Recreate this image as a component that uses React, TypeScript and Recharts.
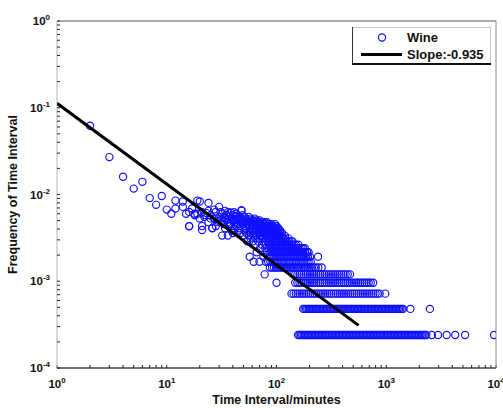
import React from 'react';
import { ScatterChart, Scatter, XAxis, YAxis, Legend, Label } from 'recharts';

const xMajorTicks = [1, 10, 100, 1000, 10000];
const yMajorTicks = [0.0001, 0.001, 0.01, 0.1, 1];
const minorSteps = [2, 3, 4, 5, 6, 7, 8, 9];

// loose points at short intervals (x = minutes, y = frequency)
const freeX = [2, 3, 4, 5, 6, 7, 8, 9, 10, 11, 12, 12, 14, 14, 16, 16, 17, 18, 19, 20, 21, 22, 23, 24, 25, 26, 27, 28, 29, 30, 33, 35, 37, 38, 40, 43, 44, 46, 48];
const freeY = [0.062, 0.027, 0.016, 0.0117, 0.014, 0.0091, 0.0076, 0.0096, 0.0067, 0.006, 0.0085, 0.0069, 0.0072, 0.0083, 0.0063, 0.0043, 0.0069, 0.006, 0.0085, 0.0083, 0.0039, 0.0058, 0.0061, 0.008, 0.0053, 0.0041, 0.0067, 0.0063, 0.005, 0.0072, 0.0055, 0.0058, 0.0046, 0.0062, 0.005, 0.0051, 0.0057, 0.0053, 0.0066];

// frequency levels of 1..27 occurrences
const bandLevels = [0.00024, 0.00048, 0.00072, 0.00096, 0.0012, 0.00144, 0.00168, 0.00192, 0.00216, 0.0024, 0.00264, 0.00288, 0.00312, 0.00336, 0.0036, 0.00384, 0.00408, 0.00432, 0.00456, 0.0048, 0.00504, 0.00528, 0.00552, 0.00576, 0.006, 0.00624, 0.00648];
const bandX = [
  [157, 162, 167, 172, 177, 182, 188, 193, 199, 205, 211, 218, 224, 231, 238, 245, 252, 260, 268, 276, 284, 292, 301, 310, 319, 329, 339, 349, 360, 370, 381, 393, 405, 417, 429, 442, 455, 469, 483, 498, 513, 528, 544, 560, 577, 594, 612, 631, 650, 669, 689, 710, 731, 753, 776, 799, 823, 848, 873, 899, 926, 954, 983, 1012, 1043, 1074, 1106, 1139, 1174, 1209, 1245, 1282, 1321, 1361, 1401, 1443, 1487, 1531, 1577, 1625, 1673, 1724, 1775, 1829, 1883, 1940, 1998, 2058, 2120, 2183, 2249, 2316, 2600, 2960, 3550, 4250, 5230, 9600],
  [175, 180, 186, 191, 197, 203, 209, 215, 222, 228, 235, 242, 250, 257, 265, 273, 281, 289, 298, 307, 316, 326, 335, 345, 356, 366, 377, 389, 400, 412, 425, 437, 451, 464, 478, 492, 507, 522, 538, 554, 571, 588, 606, 624, 643, 662, 682, 702, 723, 745, 767, 790, 814, 838, 863, 889, 916, 943, 972, 1001, 1031, 1062, 1093, 1126, 1160, 1195, 1231, 1268, 1306, 1345, 1385, 1427, 1660, 2500],
  [137, 143, 150, 156, 163, 171, 178, 186, 195, 204, 213, 222, 232, 243, 254, 265, 277, 290, 303, 316, 331, 346, 361, 377, 394, 412, 431, 450, 470, 492, 514, 537, 561, 586, 613, 640, 669, 699, 731, 763, 798, 834, 871, 980],
  [100, 148, 155, 162, 169, 177, 185, 193, 202, 211, 220, 230, 241, 251, 263, 275, 287, 300, 313, 327, 342, 358, 374, 390, 408, 426, 446, 466, 487, 509, 531, 555, 580, 606, 634, 662, 692, 723, 760],
  [78, 142, 148, 155, 162, 169, 177, 185, 193, 202, 211, 220, 230, 241, 251, 263, 275, 287, 300, 313, 327, 342, 358, 374, 390, 408, 426, 446, 468],
  [87, 91, 95, 99, 103, 108, 112, 117, 122, 127, 133, 138, 144, 150, 157, 163, 170, 178, 185, 193, 201, 210, 219, 228, 240, 258],
  [62, 70, 80, 84, 88, 92, 96, 100, 104, 109, 113, 118, 123, 129, 134, 140, 146, 152, 159, 166, 173, 180, 188, 196, 205],
  [57, 76, 86, 90, 94, 98, 102, 107, 111, 116, 121, 126, 132, 137, 143, 149, 156, 163, 170, 177, 185, 193, 202, 239],
  [66, 82, 88, 92, 96, 100, 105, 109, 114, 119, 124, 129, 135, 141, 147, 153, 160, 167, 174, 182, 190, 196],
  [71, 79, 85, 89, 93, 97, 101, 106, 110, 115, 120, 125, 131, 136, 142, 148, 155, 162, 169, 175, 181],
  [64, 74, 80, 86, 90, 94, 98, 102, 107, 112, 116, 121, 127, 132, 138, 144, 150, 158],
  [54, 61, 68, 76, 83, 88, 92, 96, 100, 105, 109, 114, 119, 124, 130, 136, 140],
  [58, 64, 70, 75, 80, 84, 89, 93, 97, 101, 105, 110, 115, 120, 128],
  [32, 36, 50, 56, 62, 66, 71, 75, 80, 85, 89, 93, 98, 102, 106, 112, 119],
  [40, 47, 53, 58, 63, 68, 72, 77, 82, 86, 90, 94, 99, 103, 108, 112],
  [39, 45, 51, 57, 61, 65, 70, 74, 78, 83, 87, 91, 95, 99, 104, 108],
  [26, 34, 41, 46, 52, 57, 62, 66, 70, 75, 80, 84, 88, 92, 96, 100, 104],
  [16, 21, 28, 37, 43, 47, 52, 56, 60, 65, 69, 74, 78, 83, 88, 92, 97, 100],
  [33, 38, 44, 50, 55, 60, 64, 68, 72, 76, 80, 85, 90, 97],
  [24, 29, 36, 42, 47, 52, 55, 59, 64, 69, 74, 78, 82],
  [31, 35, 40, 45, 49, 53, 57, 61, 66, 70],
  [20, 27, 34, 39, 44, 48, 52, 58, 63],
  [22, 30, 37, 42, 46, 51, 56],
  [18, 25, 35, 40, 49],
  [15, 19, 32, 43],
  [21, 31, 36, 41],
  [24, 34, 48],
];

// fitted power law, slope -0.935
const fitX = [1, 560];
const fitY = [0.1125, 0.00031];

const FONT = '"Liberation Sans", Arial, Helvetica, sans-serif';
const BLUE = '#1010ff';

const withMinor = (majors: number[]) => [
  ...majors,
  ...majors.slice(0, -1).flatMap((d) => minorSteps.map((m) => m * d)),
];
const xTicks = withMinor(xMajorTicks);
const yTicks = withMinor(yMajorTicks);

const isMajor = (v: number) => {
  const e = Math.log10(v);
  return Math.abs(e - Math.round(e)) < 1e-6;
};

const points = [
  ...freeX.map((x, i) => ({ x, y: freeY[i] })),
  ...bandX.flatMap((xs, i) => xs.map((x) => ({ x, y: bandLevels[i] }))),
];
const fitData = fitX.map((x, i) => ({ x, y: fitY[i] }));

const XTick = (props: any) => {
  const { x, y, payload } = props;
  if (!isMajor(payload.value)) return <g />;
  return (
    <text x={x} y={y + 11} textAnchor="middle" fontSize={11.5} fontWeight="bold" fill="#111" fontFamily={FONT}>
      10<tspan dy={-5} fontSize={8}>{Math.round(Math.log10(payload.value))}</tspan>
    </text>
  );
};

const YTick = (props: any) => {
  const { x, y, payload } = props;
  if (!isMajor(payload.value)) return <g />;
  return (
    <text x={x} y={y + 4} textAnchor="end" fontSize={11.5} fontWeight="bold" fill="#111" fontFamily={FONT}>
      10<tspan dy={-5} fontSize={8}>{Math.round(Math.log10(payload.value))}</tspan>
    </text>
  );
};

const Ring = (props: any) => (
  <circle cx={props.cx} cy={props.cy} r={3.6} fill="none" stroke={BLUE} strokeWidth={1.15} />
);

const LegendBox = () => (
  <svg width={139} height={38} style={{ display: 'block' }}>
    <rect x={0} y={0} width={139} height={38} fill="#fff" />
    <line x1={0} y1={0.5} x2={139} y2={0.5} stroke="#c8c8c8" />
    <line x1={138.5} y1={0} x2={138.5} y2={38} stroke="#c8c8c8" />
    <line x1={0.5} y1={0} x2={0.5} y2={38} stroke="#333" />
    <line x1={0} y1={37} x2={139} y2={37} stroke="#111" strokeWidth={2} />
    <circle cx={30} cy={10.5} r={3.6} fill="none" stroke={BLUE} strokeWidth={1.15} />
    <text x={55} y={15} fontSize={13} fontWeight="bold" fill="#111" fontFamily={FONT}>Wine</text>
    <line x1={9} y1={27.5} x2={50} y2={27.5} stroke="#000" strokeWidth={3} />
    <text x={55} y={32} fontSize={13} fontWeight="bold" fill="#111" fontFamily={FONT}>Slope:-0.935</text>
  </svg>
);

export default function App() {
  return (
    <div style={{ position: 'absolute', left: 0, top: 0, width: 503, height: 408, background: '#fff' }}>
      <ScatterChart width={503} height={408} margin={{ top: 20, right: 6, bottom: 0, left: 0 }}>
        <XAxis
          dataKey="x"
          type="number"
          scale="log"
          domain={[1, 10000]}
          allowDataOverflow
          ticks={xTicks}
          interval={0}
          height={40}
          tickSize={-3}
          tickMargin={12}
          tick={<XTick />}
          axisLine={{ stroke: '#444', strokeWidth: 1.5 }}
          tickLine={{ stroke: '#222' }}
        >
          <Label value="Time Interval/minutes" position="insideBottom" offset={4} style={{ fontSize: 12.5, fontWeight: 'bold', fill: '#111', fontFamily: FONT }} />
        </XAxis>
        <XAxis
          xAxisId="top"
          orientation="top"
          type="number"
          scale="log"
          domain={[1, 10000]}
          allowDataOverflow
          ticks={xTicks}
          interval={0}
          height={1}
          tickSize={-3}
          tick={false}
          axisLine={{ stroke: '#555' }}
          tickLine={{ stroke: '#222' }}
        />
        <YAxis
          dataKey="y"
          type="number"
          scale="log"
          domain={[0.0001, 1]}
          allowDataOverflow
          ticks={yTicks}
          interval={0}
          width={57}
          tickSize={-3}
          tickMargin={10}
          tick={<YTick />}
          axisLine={{ stroke: '#b5b5b5' }}
          tickLine={{ stroke: '#222' }}
        >
          <Label value="Frequency of Time Interval" angle={-90} position="insideLeft" offset={13} style={{ textAnchor: 'middle', fontSize: 12.5, fontWeight: 'bold', fill: '#111', fontFamily: FONT }} />
        </YAxis>
        <YAxis
          yAxisId="right"
          orientation="right"
          type="number"
          scale="log"
          domain={[0.0001, 1]}
          allowDataOverflow
          ticks={yTicks}
          interval={0}
          width={1}
          tickSize={-3}
          tick={false}
          axisLine={{ stroke: '#888' }}
          tickLine={{ stroke: '#222' }}
        />
        <Scatter data={points} shape={<Ring />} isAnimationActive={false} />
        <Scatter
          data={fitData}
          line={{ stroke: '#000', strokeWidth: 3 }}
          shape={() => <g />}
          isAnimationActive={false}
        />
        <Legend
          layout="vertical"
          align="center"
          verticalAlign="middle"
          wrapperStyle={{ left: 352, top: 27, width: 139, height: 38 }}
          content={() => <LegendBox />}
        />
      </ScatterChart>
    </div>
  );
}
